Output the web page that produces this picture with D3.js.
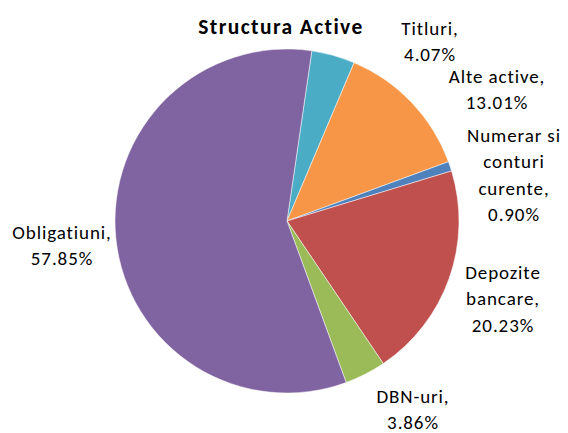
<!DOCTYPE html>
<html>
<head>
<meta charset="utf-8">
<script src="https://cdn.jsdelivr.net/npm/d3@7"></script>
<style>
  body { margin: 0; background: #fff; }
  svg text { font-family: Carlito, Lato, "Open Sans", sans-serif; fill: #000; }
</style>
</head>
<body>
<div id="vis"></div>
<script>
// data, clockwise from the first slice
const CATEGORIES = ["Titluri", "Alte active", "Numerar si conturi curente", "Depozite bancare", "DBN-uri", "Obligatiuni"];
const VALUES = [4.07, 13.01, 0.90, 20.23, 3.86, 57.85];
const LABEL_LINES = [
  ["Titluri,", "4.07%"],
  ["Alte active,", "13.01%"],
  ["Numerar si", "conturi", "curente,", "0.90%"],
  ["Depozite", "bancare,", "20.23%"],
  ["DBN-uri,", "3.86%"],
  ["Obligatiuni,", "57.85%"]
];
const COLORS = ["#4BACC6", "#F79646", "#4F81BD", "#C0504D", "#9BBB59", "#8064A2"];

// layout
const FRAME_WIDTH = 568;
const FRAME_HEIGHT = 433;
const CX = 287, CY = 221, RADIUS = 172;
const START = 8.3 * Math.PI / 180;
const LINE_H = 26.5;
// label anchors (centre x, first line centre y)
const LABEL_POS = [[430, 28], [497, 76], [514, 135], [503, 272], [413, 396], [62, 232]];

const FRAME = d3.select("#vis")
                .append("svg")
                  .attr("width", FRAME_WIDTH)
                  .attr("height", FRAME_HEIGHT);

const pie = d3.pie().sort(null).value(d => d)
              .startAngle(START).endAngle(START + 2 * Math.PI);
const arc = d3.arc().innerRadius(0).outerRadius(RADIUS);

const color = d3.scaleOrdinal().domain(CATEGORIES).range(COLORS);

const G = FRAME.append("g").attr("transform", "translate(" + CX + "," + CY + ")");

G.selectAll("path")
  .data(pie(VALUES))
  .enter()
  .append("path")
    .attr("d", arc)
    .attr("fill", (d, i) => color(CATEGORIES[i]))
    .attr("stroke", "#fff")
    .attr("stroke-width", 0.5);

// title
FRAME.append("text")
  .attr("x", 281)
  .attr("y", 34)
  .attr("text-anchor", "middle")
  .attr("font-size", "21.5px")
  .attr("font-weight", "bold")
  .attr("letter-spacing", "1.4px")
  .text("Structura Active");

// data labels
LABEL_LINES.forEach((lines, i) => {
  const t = FRAME.append("text")
    .attr("text-anchor", "middle")
    .attr("font-size", "19px")
    .attr("letter-spacing", "0.9px");
  lines.forEach((s, j) => {
    t.append("tspan")
      .attr("x", LABEL_POS[i][0])
      .attr("y", LABEL_POS[i][1] + j * LINE_H)
      .attr("dy", "0.35em")
      .text(s);
  });
});
</script>
</body>
</html>
